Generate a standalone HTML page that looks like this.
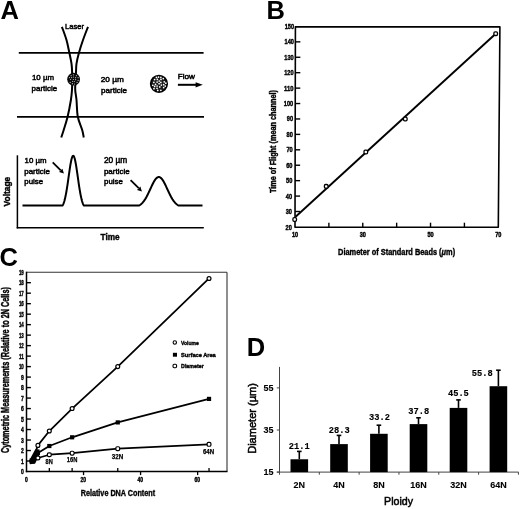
<!DOCTYPE html>
<html><head><meta charset="utf-8"><style>
html,body{margin:0;padding:0;background:#fff;overflow:hidden;}
svg{display:block;filter:grayscale(1);font-family:"Liberation Sans", sans-serif;}
text{fill:#000;}
</style></head><body>
<svg width="520" height="509" viewBox="0 0 520 509">
<rect width="520" height="509" fill="#fff"/>
<text x="0.6" y="18.6" font-size="25.5" font-weight="bold">A</text>
<text x="65" y="28.8" font-size="8" stroke="#000" stroke-width="0.5" textLength="19" lengthAdjust="spacingAndGlyphs">Laser</text>
<line x1="18.8" y1="52.9" x2="203.6" y2="52.9" stroke="#000" stroke-width="1.7" />
<line x1="17" y1="116.8" x2="204" y2="116.8" stroke="#000" stroke-width="1.7" />
<path d="M61.9,26.8 C62.67,29 65.25,35.63 66.5,40 C67.75,44.37 68.57,49.07 69.4,53 C70.23,56.93 71.05,60.43 71.5,63.6 C71.95,66.77 71.98,69.27 72.1,72 C72.22,74.73 72.22,77.07 72.2,80 C72.18,82.93 72.22,86.27 72,89.6 C71.78,92.93 71.63,95.47 70.9,100 C70.17,104.53 68.8,111.8 67.6,116.8 C66.4,121.8 64.76,126.55 63.7,130 C62.64,133.45 61.66,136.25 61.25,137.5" fill="none" stroke="#000" stroke-width="2"/>
<path d="M88,26.8 C87.17,29 84.52,35.63 83,40 C81.48,44.37 79.98,49.07 78.9,53 C77.82,56.93 76.98,60.43 76.5,63.6 C76.02,66.77 76.15,69.27 76,72 C75.85,74.73 75.73,77.07 75.6,80 C75.47,82.93 75.05,86.27 75.2,89.6 C75.35,92.93 76.07,95.47 76.5,100 C76.93,104.53 76.85,111.8 77.8,116.8 C78.75,121.8 81.21,126.55 82.2,130 C83.19,133.45 83.49,136.25 83.75,137.5" fill="none" stroke="#000" stroke-width="2"/>
<circle cx="73.6" cy="79.2" r="6.4" fill="#0a0a0a"/>
<circle cx="73.42" cy="74.78" r="0.6" fill="#bbb"/>
<circle cx="71.12" cy="75.7" r="0.6" fill="#bbb"/>
<circle cx="76.36" cy="75.7" r="0.6" fill="#bbb"/>
<circle cx="69.46" cy="77.54" r="0.6" fill="#bbb"/>
<circle cx="71.67" cy="77.54" r="0.6" fill="#bbb"/>
<circle cx="73.6" cy="76.99" r="0.6" fill="#bbb"/>
<circle cx="75.62" cy="77.64" r="0.6" fill="#bbb"/>
<circle cx="78.11" cy="77.64" r="0.6" fill="#bbb"/>
<circle cx="70.56" cy="79.48" r="0.6" fill="#bbb"/>
<circle cx="73.42" cy="79.48" r="0.6" fill="#bbb"/>
<circle cx="75.62" cy="79.66" r="0.6" fill="#bbb"/>
<circle cx="78.11" cy="80.4" r="0.6" fill="#bbb"/>
<circle cx="72.59" cy="81.32" r="0.6" fill="#bbb"/>
<circle cx="74.34" cy="81.5" r="0.6" fill="#bbb"/>
<circle cx="70.2" cy="82.42" r="0.6" fill="#bbb"/>
<circle cx="77.1" cy="82.42" r="0.6" fill="#bbb"/>
<circle cx="72.4" cy="83.71" r="0.6" fill="#bbb"/>
<circle cx="74.52" cy="83.98" r="0.6" fill="#bbb"/>
<text x="32" y="80.3" font-size="8" stroke="#000" stroke-width="0.5" textLength="22" lengthAdjust="spacingAndGlyphs">10 &#181;m</text>
<text x="31.6" y="90.6" font-size="8" stroke="#000" stroke-width="0.5" textLength="25.6" lengthAdjust="spacingAndGlyphs">particle</text>
<text x="100.8" y="81.9" font-size="8" stroke="#000" stroke-width="0.5" textLength="23" lengthAdjust="spacingAndGlyphs">20 &#181;m</text>
<text x="101" y="92.6" font-size="8" stroke="#000" stroke-width="0.5" textLength="26" lengthAdjust="spacingAndGlyphs">particle</text>
<circle cx="158.95" cy="83.8" r="8.3" fill="#1a1a1a" stroke="#000" stroke-width="1.6"/>
<circle cx="154.63" cy="79.59" r="0.85" fill="#fff"/>
<circle cx="160.85" cy="77.28" r="0.85" fill="#fff"/>
<circle cx="158.52" cy="77.09" r="0.85" fill="#fff"/>
<circle cx="163.65" cy="84.67" r="0.85" fill="#fff"/>
<circle cx="164.24" cy="81.84" r="0.85" fill="#fff"/>
<circle cx="160.86" cy="82.43" r="0.85" fill="#fff"/>
<circle cx="155.54" cy="84.47" r="0.85" fill="#fff"/>
<circle cx="153.85" cy="82.36" r="0.85" fill="#fff"/>
<circle cx="157.72" cy="90.39" r="0.85" fill="#fff"/>
<circle cx="159.23" cy="81.02" r="0.85" fill="#fff"/>
<circle cx="157.11" cy="82.12" r="0.85" fill="#fff"/>
<circle cx="159.77" cy="86.94" r="0.85" fill="#fff"/>
<circle cx="160.85" cy="90.32" r="0.85" fill="#fff"/>
<circle cx="156.44" cy="77.39" r="0.85" fill="#fff"/>
<circle cx="157.12" cy="85.98" r="0.85" fill="#fff"/>
<circle cx="160.98" cy="79.39" r="0.85" fill="#fff"/>
<circle cx="157" cy="88.25" r="0.85" fill="#fff"/>
<circle cx="163.66" cy="87.6" r="0.85" fill="#fff"/>
<circle cx="161.33" cy="85.07" r="0.85" fill="#fff"/>
<circle cx="165.24" cy="86.1" r="0.85" fill="#fff"/>
<circle cx="153.97" cy="88.66" r="0.85" fill="#fff"/>
<circle cx="152.79" cy="85.26" r="0.85" fill="#fff"/>
<circle cx="159.12" cy="83.67" r="0.85" fill="#fff"/>
<circle cx="157.38" cy="79.47" r="0.85" fill="#fff"/>
<circle cx="163.29" cy="78.54" r="0.85" fill="#fff"/>
<circle cx="165.85" cy="83.21" r="0.85" fill="#fff"/>
<circle cx="154.64" cy="86.45" r="0.85" fill="#fff"/>
<text x="177.8" y="79.4" font-size="8" stroke="#000" stroke-width="0.5" textLength="17.2" lengthAdjust="spacingAndGlyphs">Flow</text>
<line x1="177.9" y1="84.8" x2="197" y2="84.8" stroke="#000" stroke-width="2" />
<path d="M195.6,82.2 L202.8,84.8 L195.6,87.4 Z" fill="#000"/>
<line x1="17.4" y1="155.3" x2="17.4" y2="228.4" stroke="#000" stroke-width="1.5" />
<line x1="16.7" y1="227.7" x2="203.8" y2="227.7" stroke="#000" stroke-width="1.5" />
<path d="M22.5,205.4 L62.7,205.4 L63.05,204.68 L63.4,203.86 L63.75,202.92 L64.1,201.87 L64.45,200.68 L64.8,199.37 L65.15,197.91 L65.5,196.32 L65.85,194.58 L66.2,192.71 L66.55,190.71 L66.9,188.59 L67.25,186.36 L67.6,184.03 L67.95,181.63 L68.3,179.18 L68.65,176.7 L69,174.22 L69.35,171.78 L69.7,169.4 L70.05,167.11 L70.4,164.95 L70.75,162.96 L71.1,161.16 L71.45,159.58 L71.8,158.25 L72.15,157.19 L72.5,156.42 L72.85,155.96 L73.2,155.8 L73.55,155.96 L73.9,156.42 L74.25,157.19 L74.6,158.25 L74.95,159.58 L75.3,161.16 L75.65,162.96 L76,164.95 L76.35,167.11 L76.7,169.4 L77.05,171.78 L77.4,174.22 L77.75,176.7 L78.1,179.18 L78.45,181.63 L78.8,184.03 L79.15,186.36 L79.5,188.59 L79.85,190.71 L80.2,192.71 L80.55,194.58 L80.9,196.32 L81.25,197.91 L81.6,199.37 L81.95,200.68 L82.3,201.87 L82.65,202.92 L83,203.86 L83.35,204.68 L83.7,205.4 L139.3,205.4 L139.95,204.99 L140.6,204.52 L141.25,203.98 L141.9,203.38 L142.55,202.7 L143.2,201.95 L143.85,201.11 L144.5,200.2 L145.15,199.21 L145.8,198.14 L146.45,196.99 L147.1,195.77 L147.75,194.5 L148.4,193.16 L149.05,191.79 L149.7,190.39 L150.35,188.97 L151,187.55 L151.65,186.15 L152.3,184.78 L152.95,183.48 L153.6,182.24 L154.25,181.1 L154.9,180.07 L155.55,179.17 L156.2,178.4 L156.85,177.8 L157.5,177.36 L158.15,177.09 L158.8,177 L159.45,177.09 L160.1,177.36 L160.75,177.8 L161.4,178.4 L162.05,179.17 L162.7,180.07 L163.35,181.1 L164,182.24 L164.65,183.48 L165.3,184.78 L165.95,186.15 L166.6,187.55 L167.25,188.97 L167.9,190.39 L168.55,191.79 L169.2,193.16 L169.85,194.5 L170.5,195.77 L171.15,196.99 L171.8,198.14 L172.45,199.21 L173.1,200.2 L173.75,201.11 L174.4,201.95 L175.05,202.7 L175.7,203.38 L176.35,203.98 L177,204.52 L177.65,204.99 L178.3,205.4 L202.5,205.4" fill="none" stroke="#000" stroke-width="2" stroke-linejoin="round"/>
<line x1="52.7" y1="162.4" x2="60.72" y2="170.42" stroke="#000" stroke-width="1.8" />
<path d="M63.9,173.6 L59.02,172.12 L62.42,168.72 Z" fill="#000"/>
<line x1="130.6" y1="180.2" x2="138.7" y2="188.23" stroke="#000" stroke-width="1.8" />
<path d="M141.9,191.4 L137.01,189.94 L140.39,186.53 Z" fill="#000"/>
<text x="24.6" y="162.9" font-size="8" stroke="#000" stroke-width="0.5" textLength="22" lengthAdjust="spacingAndGlyphs">10 &#181;m</text>
<text x="24.2" y="173.5" font-size="8" stroke="#000" stroke-width="0.5" textLength="25.8" lengthAdjust="spacingAndGlyphs">particle</text>
<text x="24.3" y="184" font-size="8" stroke="#000" stroke-width="0.5" textLength="18.8" lengthAdjust="spacingAndGlyphs">pulse</text>
<text x="103.9" y="163" font-size="8.3" stroke="#000" stroke-width="0.5" textLength="23.2" lengthAdjust="spacingAndGlyphs">20 &#181;m</text>
<text x="103.9" y="173.8" font-size="8" stroke="#000" stroke-width="0.5" textLength="25.8" lengthAdjust="spacingAndGlyphs">particle</text>
<text x="104" y="183.9" font-size="8" stroke="#000" stroke-width="0.5" textLength="18.9" lengthAdjust="spacingAndGlyphs">pulse</text>
<text x="10.1" y="206.4" font-size="8.4" stroke="#000" stroke-width="0.4" font-weight="bold" textLength="29.6" lengthAdjust="spacingAndGlyphs" transform="rotate(-90 10.1 206.4)">Voltage</text>
<text x="100.6" y="239.9" font-size="8.7" stroke="#000" stroke-width="0.4" font-weight="bold" textLength="19" lengthAdjust="spacingAndGlyphs">Time</text>
<text x="266.6" y="18.9" font-size="25.5" font-weight="bold">B</text>
<path d="M295.4,26.8 L499.9,26.9 L498.3,227.2 L295,227.2 Z" fill="none" stroke="#000" stroke-width="1.6" stroke-linejoin="round"/>
<text x="291.83" y="229.7" font-size="6.8" stroke="#000" stroke-width="0.4" font-weight="bold" text-anchor="end" textLength="6.3" lengthAdjust="spacingAndGlyphs">20</text>
<line x1="295.03" y1="211.5" x2="300.03" y2="211.5" stroke="#000" stroke-width="1.4" />
<text x="292" y="214" font-size="6.8" stroke="#000" stroke-width="0.4" font-weight="bold" text-anchor="end" textLength="6.3" lengthAdjust="spacingAndGlyphs">30</text>
<line x1="295.06" y1="196.08" x2="300.06" y2="196.08" stroke="#000" stroke-width="1.4" />
<text x="292.17" y="198.58" font-size="6.8" stroke="#000" stroke-width="0.4" font-weight="bold" text-anchor="end" textLength="6.3" lengthAdjust="spacingAndGlyphs">40</text>
<line x1="295.09" y1="180.65" x2="300.09" y2="180.65" stroke="#000" stroke-width="1.4" />
<text x="292.35" y="183.15" font-size="6.8" stroke="#000" stroke-width="0.4" font-weight="bold" text-anchor="end" textLength="6.3" lengthAdjust="spacingAndGlyphs">50</text>
<line x1="295.12" y1="165.23" x2="300.12" y2="165.23" stroke="#000" stroke-width="1.4" />
<text x="292.52" y="167.73" font-size="6.8" stroke="#000" stroke-width="0.4" font-weight="bold" text-anchor="end" textLength="6.3" lengthAdjust="spacingAndGlyphs">60</text>
<line x1="295.15" y1="149.81" x2="300.15" y2="149.81" stroke="#000" stroke-width="1.4" />
<text x="292.69" y="152.31" font-size="6.8" stroke="#000" stroke-width="0.4" font-weight="bold" text-anchor="end" textLength="6.3" lengthAdjust="spacingAndGlyphs">70</text>
<line x1="295.19" y1="134.38" x2="300.19" y2="134.38" stroke="#000" stroke-width="1.4" />
<text x="292.87" y="136.88" font-size="6.8" stroke="#000" stroke-width="0.4" font-weight="bold" text-anchor="end" textLength="6.3" lengthAdjust="spacingAndGlyphs">80</text>
<line x1="295.22" y1="118.96" x2="300.22" y2="118.96" stroke="#000" stroke-width="1.4" />
<text x="293.04" y="121.46" font-size="6.8" stroke="#000" stroke-width="0.4" font-weight="bold" text-anchor="end" textLength="6.3" lengthAdjust="spacingAndGlyphs">90</text>
<line x1="295.25" y1="103.54" x2="300.25" y2="103.54" stroke="#000" stroke-width="1.4" />
<text x="293.21" y="106.04" font-size="6.8" stroke="#000" stroke-width="0.4" font-weight="bold" text-anchor="end" textLength="9.4" lengthAdjust="spacingAndGlyphs">100</text>
<line x1="295.28" y1="88.12" x2="300.28" y2="88.12" stroke="#000" stroke-width="1.4" />
<text x="293.38" y="90.62" font-size="6.8" stroke="#000" stroke-width="0.4" font-weight="bold" text-anchor="end" textLength="9.4" lengthAdjust="spacingAndGlyphs">110</text>
<line x1="295.31" y1="72.69" x2="300.31" y2="72.69" stroke="#000" stroke-width="1.4" />
<text x="293.56" y="75.19" font-size="6.8" stroke="#000" stroke-width="0.4" font-weight="bold" text-anchor="end" textLength="9.4" lengthAdjust="spacingAndGlyphs">120</text>
<line x1="295.34" y1="57.27" x2="300.34" y2="57.27" stroke="#000" stroke-width="1.4" />
<text x="293.73" y="59.77" font-size="6.8" stroke="#000" stroke-width="0.4" font-weight="bold" text-anchor="end" textLength="9.4" lengthAdjust="spacingAndGlyphs">130</text>
<line x1="295.37" y1="41.85" x2="300.37" y2="41.85" stroke="#000" stroke-width="1.4" />
<text x="293.9" y="44.35" font-size="6.8" stroke="#000" stroke-width="0.4" font-weight="bold" text-anchor="end" textLength="9.4" lengthAdjust="spacingAndGlyphs">140</text>
<text x="294.07" y="28.6" font-size="6.8" stroke="#000" stroke-width="0.4" font-weight="bold" text-anchor="end" textLength="9.4" lengthAdjust="spacingAndGlyphs">150</text>
<text x="295" y="237.1" font-size="6.4" stroke="#000" stroke-width="0.4" font-weight="bold" text-anchor="middle" textLength="6.2" lengthAdjust="spacingAndGlyphs">10</text>
<line x1="328.88" y1="227.2" x2="328.88" y2="222.7" stroke="#000" stroke-width="1.4" />
<line x1="362.77" y1="227.2" x2="362.77" y2="222.7" stroke="#000" stroke-width="1.4" />
<text x="362.77" y="237.1" font-size="6.4" stroke="#000" stroke-width="0.4" font-weight="bold" text-anchor="middle" textLength="6.2" lengthAdjust="spacingAndGlyphs">30</text>
<line x1="396.65" y1="227.2" x2="396.65" y2="222.7" stroke="#000" stroke-width="1.4" />
<line x1="430.53" y1="227.2" x2="430.53" y2="222.7" stroke="#000" stroke-width="1.4" />
<text x="430.53" y="237.1" font-size="6.4" stroke="#000" stroke-width="0.4" font-weight="bold" text-anchor="middle" textLength="6.2" lengthAdjust="spacingAndGlyphs">50</text>
<line x1="464.42" y1="227.2" x2="464.42" y2="222.7" stroke="#000" stroke-width="1.4" />
<text x="498.3" y="237.1" font-size="6.4" stroke="#000" stroke-width="0.4" font-weight="bold" text-anchor="middle" textLength="6.2" lengthAdjust="spacingAndGlyphs">70</text>
<line x1="295.6" y1="216.8" x2="495.7" y2="33.7" stroke="#000" stroke-width="1.9" />
<rect x="292.9" y="217.7" width="3.6" height="3.6" rx="1.2" fill="#fff" stroke="#000" stroke-width="1.3"/>
<rect x="324.4" y="184.5" width="3.6" height="3.6" rx="1.2" fill="#fff" stroke="#000" stroke-width="1.3"/>
<rect x="364" y="150.2" width="3.6" height="3.6" rx="1.2" fill="#fff" stroke="#000" stroke-width="1.3"/>
<rect x="403.5" y="117.2" width="3.6" height="3.6" rx="1.2" fill="#fff" stroke="#000" stroke-width="1.3"/>
<rect x="493.9" y="31.9" width="3.6" height="3.6" rx="1.2" fill="#fff" stroke="#000" stroke-width="1.3"/>
<text x="275.8" y="193.1" font-size="9.7" stroke="#000" stroke-width="0.4" font-weight="bold" textLength="103" lengthAdjust="spacingAndGlyphs" transform="rotate(-90 275.8 193.1)">Time of Flight (mean channel)</text>
<text x="338.1" y="255.3" font-size="9.2" stroke="#000" stroke-width="0.4" font-weight="bold" textLength="117" lengthAdjust="spacingAndGlyphs">Diameter of Standard Beads (<tspan font-style="italic">&#956;</tspan>m)</text>
<text x="-0.6" y="265.6" font-size="25.5" font-weight="bold">C</text>
<line x1="26.5" y1="272.2" x2="227" y2="272.2" stroke="#333" stroke-width="1.1" />
<line x1="227" y1="272.2" x2="227" y2="471.5" stroke="#333" stroke-width="1.1" />
<line x1="26.5" y1="271.7" x2="26.5" y2="472.2" stroke="#000" stroke-width="1.5" />
<line x1="25.8" y1="471.5" x2="227.5" y2="471.5" stroke="#000" stroke-width="1.5" />
<text x="23.8" y="474" font-size="6.8" stroke="#000" stroke-width="0.4" font-weight="bold" text-anchor="end" textLength="2.8" lengthAdjust="spacingAndGlyphs">0</text>
<line x1="26.5" y1="461.01" x2="30.9" y2="461.01" stroke="#000" stroke-width="1.4" />
<text x="23.8" y="463.51" font-size="6.8" stroke="#000" stroke-width="0.4" font-weight="bold" text-anchor="end" textLength="2.8" lengthAdjust="spacingAndGlyphs">1</text>
<line x1="26.5" y1="450.52" x2="30.9" y2="450.52" stroke="#000" stroke-width="1.4" />
<text x="23.8" y="453.02" font-size="6.8" stroke="#000" stroke-width="0.4" font-weight="bold" text-anchor="end" textLength="2.8" lengthAdjust="spacingAndGlyphs">2</text>
<line x1="26.5" y1="440.03" x2="30.9" y2="440.03" stroke="#000" stroke-width="1.4" />
<text x="23.8" y="442.53" font-size="6.8" stroke="#000" stroke-width="0.4" font-weight="bold" text-anchor="end" textLength="2.8" lengthAdjust="spacingAndGlyphs">3</text>
<line x1="26.5" y1="429.54" x2="30.9" y2="429.54" stroke="#000" stroke-width="1.4" />
<text x="23.8" y="432.04" font-size="6.8" stroke="#000" stroke-width="0.4" font-weight="bold" text-anchor="end" textLength="2.8" lengthAdjust="spacingAndGlyphs">4</text>
<line x1="26.5" y1="419.05" x2="30.9" y2="419.05" stroke="#000" stroke-width="1.4" />
<text x="23.8" y="421.55" font-size="6.8" stroke="#000" stroke-width="0.4" font-weight="bold" text-anchor="end" textLength="2.8" lengthAdjust="spacingAndGlyphs">5</text>
<line x1="26.5" y1="408.56" x2="30.9" y2="408.56" stroke="#000" stroke-width="1.4" />
<text x="23.8" y="411.06" font-size="6.8" stroke="#000" stroke-width="0.4" font-weight="bold" text-anchor="end" textLength="2.8" lengthAdjust="spacingAndGlyphs">6</text>
<line x1="26.5" y1="398.07" x2="30.9" y2="398.07" stroke="#000" stroke-width="1.4" />
<text x="23.8" y="400.57" font-size="6.8" stroke="#000" stroke-width="0.4" font-weight="bold" text-anchor="end" textLength="2.8" lengthAdjust="spacingAndGlyphs">7</text>
<line x1="26.5" y1="387.58" x2="30.9" y2="387.58" stroke="#000" stroke-width="1.4" />
<text x="23.8" y="390.08" font-size="6.8" stroke="#000" stroke-width="0.4" font-weight="bold" text-anchor="end" textLength="2.8" lengthAdjust="spacingAndGlyphs">8</text>
<line x1="26.5" y1="377.09" x2="30.9" y2="377.09" stroke="#000" stroke-width="1.4" />
<text x="23.8" y="379.59" font-size="6.8" stroke="#000" stroke-width="0.4" font-weight="bold" text-anchor="end" textLength="2.8" lengthAdjust="spacingAndGlyphs">9</text>
<line x1="26.5" y1="366.61" x2="30.9" y2="366.61" stroke="#000" stroke-width="1.4" />
<text x="23.8" y="369.11" font-size="6.8" stroke="#000" stroke-width="0.4" font-weight="bold" text-anchor="end" textLength="4.9" lengthAdjust="spacingAndGlyphs">10</text>
<line x1="26.5" y1="356.12" x2="30.9" y2="356.12" stroke="#000" stroke-width="1.4" />
<text x="23.8" y="358.62" font-size="6.8" stroke="#000" stroke-width="0.4" font-weight="bold" text-anchor="end" textLength="4.9" lengthAdjust="spacingAndGlyphs">11</text>
<line x1="26.5" y1="345.63" x2="30.9" y2="345.63" stroke="#000" stroke-width="1.4" />
<text x="23.8" y="348.13" font-size="6.8" stroke="#000" stroke-width="0.4" font-weight="bold" text-anchor="end" textLength="4.9" lengthAdjust="spacingAndGlyphs">12</text>
<line x1="26.5" y1="335.14" x2="30.9" y2="335.14" stroke="#000" stroke-width="1.4" />
<text x="23.8" y="337.64" font-size="6.8" stroke="#000" stroke-width="0.4" font-weight="bold" text-anchor="end" textLength="4.9" lengthAdjust="spacingAndGlyphs">13</text>
<line x1="26.5" y1="324.65" x2="30.9" y2="324.65" stroke="#000" stroke-width="1.4" />
<text x="23.8" y="327.15" font-size="6.8" stroke="#000" stroke-width="0.4" font-weight="bold" text-anchor="end" textLength="4.9" lengthAdjust="spacingAndGlyphs">14</text>
<line x1="26.5" y1="314.16" x2="30.9" y2="314.16" stroke="#000" stroke-width="1.4" />
<text x="23.8" y="316.66" font-size="6.8" stroke="#000" stroke-width="0.4" font-weight="bold" text-anchor="end" textLength="4.9" lengthAdjust="spacingAndGlyphs">15</text>
<line x1="26.5" y1="303.67" x2="30.9" y2="303.67" stroke="#000" stroke-width="1.4" />
<text x="23.8" y="306.17" font-size="6.8" stroke="#000" stroke-width="0.4" font-weight="bold" text-anchor="end" textLength="4.9" lengthAdjust="spacingAndGlyphs">16</text>
<line x1="26.5" y1="293.18" x2="30.9" y2="293.18" stroke="#000" stroke-width="1.4" />
<text x="23.8" y="295.68" font-size="6.8" stroke="#000" stroke-width="0.4" font-weight="bold" text-anchor="end" textLength="4.9" lengthAdjust="spacingAndGlyphs">17</text>
<line x1="26.5" y1="282.69" x2="30.9" y2="282.69" stroke="#000" stroke-width="1.4" />
<text x="23.8" y="285.19" font-size="6.8" stroke="#000" stroke-width="0.4" font-weight="bold" text-anchor="end" textLength="4.9" lengthAdjust="spacingAndGlyphs">18</text>
<text x="23.8" y="274.7" font-size="6.8" stroke="#000" stroke-width="0.4" font-weight="bold" text-anchor="end" textLength="4.9" lengthAdjust="spacingAndGlyphs">19</text>
<line x1="49.32" y1="471.5" x2="49.32" y2="467.9" stroke="#000" stroke-width="1.3" />
<line x1="72.13" y1="471.5" x2="72.13" y2="467.9" stroke="#000" stroke-width="1.3" />
<line x1="117.76" y1="471.5" x2="117.76" y2="467.9" stroke="#000" stroke-width="1.3" />
<line x1="209.03" y1="471.5" x2="209.03" y2="467.9" stroke="#000" stroke-width="1.3" />
<line x1="83.54" y1="471.5" x2="83.54" y2="475.1" stroke="#000" stroke-width="1.3" />
<line x1="140.58" y1="471.5" x2="140.58" y2="475.1" stroke="#000" stroke-width="1.3" />
<line x1="197.62" y1="471.5" x2="197.62" y2="475.1" stroke="#000" stroke-width="1.3" />
<text x="26.3" y="481.7" font-size="6.6" stroke="#000" stroke-width="0.4" font-weight="bold" text-anchor="middle" textLength="2.8" lengthAdjust="spacingAndGlyphs">0</text>
<text x="83.24" y="481.7" font-size="6.6" stroke="#000" stroke-width="0.4" font-weight="bold" text-anchor="middle" textLength="5.6" lengthAdjust="spacingAndGlyphs">20</text>
<text x="140.28" y="481.7" font-size="6.6" stroke="#000" stroke-width="0.4" font-weight="bold" text-anchor="middle" textLength="5.6" lengthAdjust="spacingAndGlyphs">40</text>
<text x="197.32" y="481.7" font-size="6.6" stroke="#000" stroke-width="0.4" font-weight="bold" text-anchor="middle" textLength="5.6" lengthAdjust="spacingAndGlyphs">60</text>
<path d="M32.2,461.01 L37.91,445.38 L49.32,431.01 L72.13,408.56 L117.76,366.61 L209.03,278.49" fill="none" stroke="#000" stroke-width="1.75" stroke-linejoin="round"/>
<path d="M32.2,461.01 L37.91,453.04 L49.32,446.01 L72.13,437.3 L117.76,422.41 L209.03,398.91" fill="none" stroke="#000" stroke-width="1.75" stroke-linejoin="round"/>
<path d="M32.2,461.01 L37.91,457.97 L49.32,454.72 L72.13,453.14 L117.76,448.63 L209.03,444.33" fill="none" stroke="#000" stroke-width="1.75" stroke-linejoin="round"/>
<path d="M29.2,460.5 L35.3,449.3 L39.6,449.6 L39.4,454.8 L35.2,463.6 L30,464.2 Z" fill="#000"/>
<rect x="36.01" y="456.07" width="3.8" height="3.8" rx="1.3" fill="#fff" stroke="#000" stroke-width="1.2"/>
<rect x="47.42" y="452.82" width="3.8" height="3.8" rx="1.3" fill="#fff" stroke="#000" stroke-width="1.2"/>
<rect x="70.23" y="451.24" width="3.8" height="3.8" rx="1.3" fill="#fff" stroke="#000" stroke-width="1.2"/>
<rect x="115.86" y="446.73" width="3.8" height="3.8" rx="1.3" fill="#fff" stroke="#000" stroke-width="1.2"/>
<rect x="207.13" y="442.43" width="3.8" height="3.8" rx="1.3" fill="#fff" stroke="#000" stroke-width="1.2"/>
<circle cx="37.91" cy="445.38" r="1.95" fill="#fff" stroke="#000" stroke-width="1.2"/>
<circle cx="49.32" cy="431.01" r="1.95" fill="#fff" stroke="#000" stroke-width="1.2"/>
<circle cx="72.13" cy="408.56" r="1.95" fill="#fff" stroke="#000" stroke-width="1.2"/>
<circle cx="117.76" cy="366.61" r="1.95" fill="#fff" stroke="#000" stroke-width="1.2"/>
<circle cx="209.03" cy="278.49" r="1.95" fill="#fff" stroke="#000" stroke-width="1.2"/>
<rect x="29.6" y="458.41" width="5.2" height="5.2" fill="#000"/>
<rect x="35.81" y="450.94" width="4.2" height="4.2" fill="#000"/>
<rect x="47.22" y="443.91" width="4.2" height="4.2" fill="#000"/>
<rect x="70.03" y="435.2" width="4.2" height="4.2" fill="#000"/>
<rect x="115.66" y="420.31" width="4.2" height="4.2" fill="#000"/>
<rect x="206.93" y="396.81" width="4.2" height="4.2" fill="#000"/>
<text x="49.1" y="463.8" font-size="6.8" stroke="#000" stroke-width="0.25" font-weight="bold" text-anchor="middle" textLength="7.2" lengthAdjust="spacingAndGlyphs">8N</text>
<text x="72.1" y="462.2" font-size="6.8" stroke="#000" stroke-width="0.25" font-weight="bold" text-anchor="middle" textLength="10.6" lengthAdjust="spacingAndGlyphs">16N</text>
<text x="117.5" y="458.7" font-size="6.8" stroke="#000" stroke-width="0.25" font-weight="bold" text-anchor="middle" textLength="11.4" lengthAdjust="spacingAndGlyphs">32N</text>
<text x="208.5" y="453.7" font-size="6.8" stroke="#000" stroke-width="0.25" font-weight="bold" text-anchor="middle" textLength="11.2" lengthAdjust="spacingAndGlyphs">64N</text>
<circle cx="174.8" cy="342.5" r="1.7" fill="#fff" stroke="#000" stroke-width="1.1"/>
<rect x="172.9" y="352.8" width="4.1" height="3.9" fill="#000"/>
<rect x="173" y="364.2" width="3.6" height="3.6" rx="1.2" fill="#fff" stroke="#000" stroke-width="1.1"/>
<text x="181.1" y="344.6" font-size="6.2" stroke="#000" stroke-width="0.4" font-weight="bold" textLength="17.7" lengthAdjust="spacingAndGlyphs">Volume</text>
<text x="181.1" y="356.6" font-size="6.2" stroke="#000" stroke-width="0.4" font-weight="bold" textLength="34.6" lengthAdjust="spacingAndGlyphs">Surface Area</text>
<text x="181.1" y="368.2" font-size="6.2" stroke="#000" stroke-width="0.4" font-weight="bold" textLength="22.6" lengthAdjust="spacingAndGlyphs">Diameter</text>
<text x="9.2" y="453.1" font-size="10" stroke="#000" stroke-width="0.4" font-weight="bold" textLength="166" lengthAdjust="spacingAndGlyphs" transform="rotate(-90 9.2 453.1)">Cytometric Measurements (Relative to 2N Cells)</text>
<text x="80.7" y="495.9" font-size="9.4" stroke="#000" stroke-width="0.4" font-weight="bold" textLength="74.4" lengthAdjust="spacingAndGlyphs">Relative DNA Content</text>
<text x="246.7" y="355.5" font-size="25.5" font-weight="bold">D</text>
<line x1="279.5" y1="366.9" x2="279.5" y2="472.1" stroke="#444" stroke-width="1" />
<line x1="276.8" y1="472.1" x2="518.6" y2="472.1" stroke="#444" stroke-width="1" />
<line x1="276.8" y1="472.1" x2="279.5" y2="472.1" stroke="#444" stroke-width="1" />
<text x="273.4" y="475.3" font-size="9" stroke="#000" stroke-width="0.1" font-weight="bold" text-anchor="end">15</text>
<line x1="276.8" y1="430" x2="279.5" y2="430" stroke="#444" stroke-width="1" />
<text x="273.4" y="433.2" font-size="9" stroke="#000" stroke-width="0.1" font-weight="bold" text-anchor="end">35</text>
<line x1="276.8" y1="387.9" x2="279.5" y2="387.9" stroke="#444" stroke-width="1" />
<text x="273.4" y="391.1" font-size="9" stroke="#000" stroke-width="0.1" font-weight="bold" text-anchor="end">55</text>
<line x1="279.5" y1="472.1" x2="279.5" y2="474.7" stroke="#444" stroke-width="1" />
<line x1="319.32" y1="472.1" x2="319.32" y2="474.7" stroke="#444" stroke-width="1" />
<line x1="359.14" y1="472.1" x2="359.14" y2="474.7" stroke="#444" stroke-width="1" />
<line x1="398.96" y1="472.1" x2="398.96" y2="474.7" stroke="#444" stroke-width="1" />
<line x1="438.78" y1="472.1" x2="438.78" y2="474.7" stroke="#444" stroke-width="1" />
<line x1="478.6" y1="472.1" x2="478.6" y2="474.7" stroke="#444" stroke-width="1" />
<line x1="518.42" y1="472.1" x2="518.42" y2="474.7" stroke="#444" stroke-width="1" />
<rect x="290.5" y="459.26" width="17.6" height="12.84" fill="#000"/>
<line x1="299.3" y1="459.26" x2="299.3" y2="451.4" stroke="#000" stroke-width="1.6" />
<line x1="297" y1="451.4" x2="301.6" y2="451.4" stroke="#000" stroke-width="1.6" />
<text x="299.3" y="449.2" font-size="8.7" stroke="#000" stroke-width="0.15" font-weight="bold" text-anchor="middle" font-family='"Liberation Mono", monospace'>21.1</text>
<text x="299.3" y="487.7" font-size="9" stroke="#000" stroke-width="0.1" font-weight="bold" text-anchor="middle">2N</text>
<rect x="330.2" y="444.1" width="17.6" height="28" fill="#000"/>
<line x1="339" y1="444.1" x2="339" y2="435.4" stroke="#000" stroke-width="1.6" />
<line x1="336.7" y1="435.4" x2="341.3" y2="435.4" stroke="#000" stroke-width="1.6" />
<text x="339.3" y="433.2" font-size="8.7" stroke="#000" stroke-width="0.15" font-weight="bold" text-anchor="middle" font-family='"Liberation Mono", monospace'>28.3</text>
<text x="339" y="487.7" font-size="9" stroke="#000" stroke-width="0.1" font-weight="bold" text-anchor="middle">4N</text>
<rect x="370.1" y="433.79" width="17.6" height="38.31" fill="#000"/>
<line x1="378.9" y1="433.79" x2="378.9" y2="425.2" stroke="#000" stroke-width="1.6" />
<line x1="376.6" y1="425.2" x2="381.2" y2="425.2" stroke="#000" stroke-width="1.6" />
<text x="379.5" y="420.3" font-size="8.7" stroke="#000" stroke-width="0.15" font-weight="bold" text-anchor="middle" font-family='"Liberation Mono", monospace'>33.2</text>
<text x="378.9" y="487.7" font-size="9" stroke="#000" stroke-width="0.1" font-weight="bold" text-anchor="middle">8N</text>
<rect x="409.7" y="424.11" width="17.6" height="47.99" fill="#000"/>
<line x1="418.5" y1="424.11" x2="418.5" y2="417.8" stroke="#000" stroke-width="1.6" />
<line x1="416.2" y1="417.8" x2="420.8" y2="417.8" stroke="#000" stroke-width="1.6" />
<text x="418.7" y="413.7" font-size="8.7" stroke="#000" stroke-width="0.15" font-weight="bold" text-anchor="middle" font-family='"Liberation Mono", monospace'>37.8</text>
<text x="418.5" y="487.7" font-size="9" stroke="#000" stroke-width="0.1" font-weight="bold" text-anchor="middle">16N</text>
<rect x="449.7" y="407.9" width="17.6" height="64.2" fill="#000"/>
<line x1="458.5" y1="407.9" x2="458.5" y2="399.9" stroke="#000" stroke-width="1.6" />
<line x1="456.2" y1="399.9" x2="460.8" y2="399.9" stroke="#000" stroke-width="1.6" />
<text x="458.4" y="395.8" font-size="8.7" stroke="#000" stroke-width="0.15" font-weight="bold" text-anchor="middle" font-family='"Liberation Mono", monospace'>45.5</text>
<text x="458.5" y="487.7" font-size="9" stroke="#000" stroke-width="0.1" font-weight="bold" text-anchor="middle">32N</text>
<rect x="489.6" y="386.22" width="17.6" height="85.88" fill="#000"/>
<line x1="498.4" y1="386.22" x2="498.4" y2="370.2" stroke="#000" stroke-width="1.6" />
<line x1="496.1" y1="370.2" x2="500.7" y2="370.2" stroke="#000" stroke-width="1.6" />
<text x="482.3" y="375.7" font-size="8.7" stroke="#000" stroke-width="0.15" font-weight="bold" text-anchor="middle" font-family='"Liberation Mono", monospace'>55.8</text>
<text x="498.4" y="487.7" font-size="9" stroke="#000" stroke-width="0.1" font-weight="bold" text-anchor="middle">64N</text>
<text x="384.1" y="505.3" font-size="10.6" stroke="#000" stroke-width="0.5" textLength="28.9" lengthAdjust="spacingAndGlyphs">Ploidy</text>
<text x="256.1" y="453.8" font-size="10.6" stroke="#000" stroke-width="0.5" textLength="70.8" lengthAdjust="spacingAndGlyphs" transform="rotate(-90 256.1 453.8)">Diameter (&#181;m)</text>
</svg>
</body></html>
